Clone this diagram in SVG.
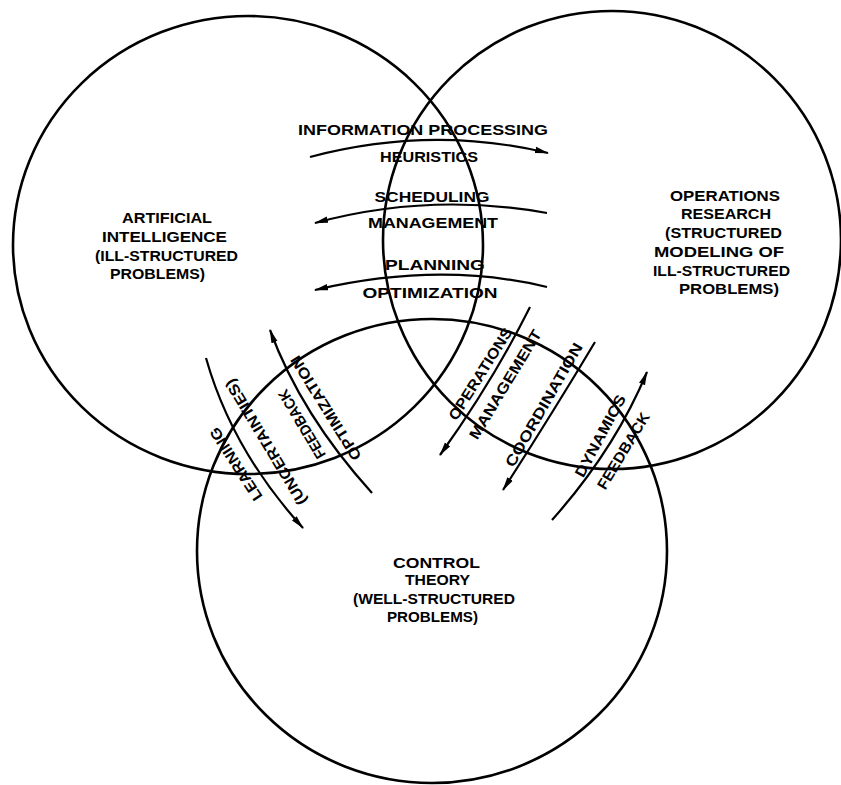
<svg xmlns="http://www.w3.org/2000/svg" width="841" height="785" viewBox="0 0 841 785">
<style>
.c{fill:none;stroke:#000;stroke-width:2.6}
.a{fill:none;stroke:#000;stroke-width:2.2;marker-end:url(#ah)}
text{font-family:"Liberation Sans",Arial,sans-serif;font-weight:bold;font-size:15px;fill:#000;text-anchor:middle}
</style>
<defs>
<marker id="ah" markerWidth="14" markerHeight="8" refX="13" refY="4" orient="auto" markerUnits="userSpaceOnUse"><path d="M0,0.8 L14,4 L0,7.2 z" fill="#000"/></marker>
</defs>
<rect width="841" height="785" fill="#fff"/>
<g id="ai">
<ellipse class="c" cx="248" cy="245" rx="235" ry="229"/>
<text x="167" y="223" textLength="90" lengthAdjust="spacingAndGlyphs">ARTIFICIAL</text>
<text x="164.5" y="242" textLength="125" lengthAdjust="spacingAndGlyphs">INTELLIGENCE</text>
<text x="166.5" y="261" textLength="143" lengthAdjust="spacingAndGlyphs">(ILL-STRUCTURED</text>
<text x="157.5" y="279" textLength="95" lengthAdjust="spacingAndGlyphs">PROBLEMS)</text>
</g>
<g id="or">
<circle class="c" cx="612" cy="240" r="229"/>
<text x="725" y="201" textLength="110" lengthAdjust="spacingAndGlyphs">OPERATIONS</text>
<text x="726" y="219" textLength="90" lengthAdjust="spacingAndGlyphs">RESEARCH</text>
<text x="723.5" y="238" textLength="117" lengthAdjust="spacingAndGlyphs">(STRUCTURED</text>
<text x="719" y="257" textLength="130" lengthAdjust="spacingAndGlyphs">MODELING OF</text>
<text x="721.5" y="276" textLength="137" lengthAdjust="spacingAndGlyphs">ILL-STRUCTURED</text>
<text x="729" y="294" textLength="100" lengthAdjust="spacingAndGlyphs">PROBLEMS)</text>
</g>
<g id="ct">
<ellipse class="c" cx="432" cy="551" rx="235" ry="232"/>
<text x="436.5" y="568" textLength="87" lengthAdjust="spacingAndGlyphs">CONTROL</text>
<text x="437.5" y="585" textLength="65" lengthAdjust="spacingAndGlyphs">THEORY</text>
<text x="434" y="604" textLength="162" lengthAdjust="spacingAndGlyphs">(WELL-STRUCTURED</text>
<text x="432.5" y="622" textLength="91" lengthAdjust="spacingAndGlyphs">PROBLEMS)</text>
</g>
<g id="connectors">
<path class="a" d="M310,157 Q431,125 548,153"/>
<path class="a" d="M547,213 Q429,192 315,223"/>
<path class="a" d="M547,287 Q439,261 315,290"/>
<path class="a" d="M206,358 Q232,450 303,528"/>
<path class="a" d="M372,493 Q301,414.5 270,330"/>
<path class="a" d="M530,307 Q493,381 440,455"/>
<path class="a" d="M595,342 Q552,414 503,490"/>
<path class="a" d="M552,520 Q614.5,450 647,372"/>
</g>
<g id="labels">
<text x="423" y="135" textLength="250" lengthAdjust="spacingAndGlyphs">INFORMATION PROCESSING</text>
<text x="429" y="162" textLength="98" lengthAdjust="spacingAndGlyphs">HEURISTICS</text>
<text x="432" y="202" textLength="115" lengthAdjust="spacingAndGlyphs">SCHEDULING</text>
<text x="433" y="228" textLength="130" lengthAdjust="spacingAndGlyphs">MANAGEMENT</text>
<text x="435" y="270" textLength="100" lengthAdjust="spacingAndGlyphs">PLANNING</text>
<text x="430" y="298" textLength="135" lengthAdjust="spacingAndGlyphs">OPTIMIZATION</text>
<text transform="translate(236,464) rotate(-123)" y="5" textLength="84" lengthAdjust="spacingAndGlyphs">LEARNING</text>
<text transform="translate(266,442) rotate(-121)" y="5" textLength="144" lengthAdjust="spacingAndGlyphs">(UNCERTAINTIES)</text>
<text transform="translate(302,424) rotate(-121)" y="5" textLength="78" lengthAdjust="spacingAndGlyphs">FEEDBACK</text>
<text transform="translate(326,408) rotate(-122)" y="5" textLength="120" lengthAdjust="spacingAndGlyphs">OPTIMIZATION</text>
<text transform="translate(480.5,374) rotate(-57.7)" y="5" textLength="106" lengthAdjust="spacingAndGlyphs">OPERATIONS</text>
<text transform="translate(505.5,384.5) rotate(-58.7)" y="5" textLength="125" lengthAdjust="spacingAndGlyphs">MANAGEMENT</text>
<text transform="translate(544,405) rotate(-60.2)" y="5" textLength="140" lengthAdjust="spacingAndGlyphs">COORDINATION</text>
<text transform="translate(600.5,436) rotate(-61.7)" y="5" textLength="91" lengthAdjust="spacingAndGlyphs">DYNAMICS</text>
<text transform="translate(623.5,451) rotate(-58.7)" y="5" textLength="87" lengthAdjust="spacingAndGlyphs">FEEDBACK</text>
</g>
</svg>
